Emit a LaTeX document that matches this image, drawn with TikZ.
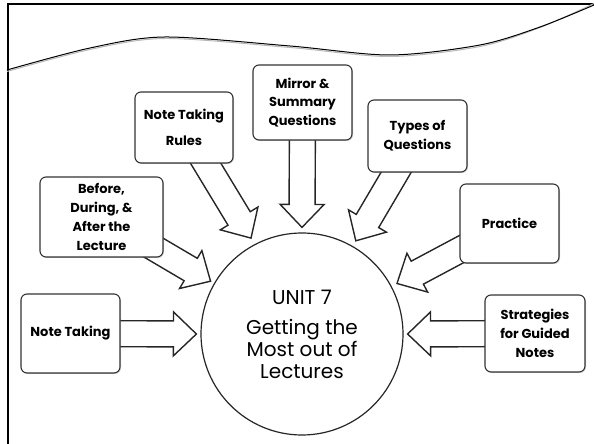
\documentclass[tikz,border=0pt]{standalone}
\usepackage{fontspec}
\setmainfont{Poppins}
\usetikzlibrary{calc,shadows,backgrounds}

% block arrow from the centre of a box to a tip coordinate
\newcommand\blockarrow[2]{%
  \coordinate (h) at ($(#2)!23pt!(#1)$);
  \draw[arrowline] ($(#1)!13pt!90:(#2)$) -- ($(h)!13pt!-90:(#1)$) -- ($(h)!22pt!-90:(#1)$)
    -- (#2) -- ($(h)!22pt!90:(#1)$) -- ($(h)!13pt!90:(#1)$) -- ($(#1)!13pt!-90:(#2)$);}

\tikzset{
  topicbox/.style={draw=black!80, line width=1.1pt, rounded corners=6pt, fill=white,
    align=center, inner sep=2pt, font=\fontsize{13}{18.7}\selectfont\bfseries,
    drop shadow={shadow xshift=1pt, shadow yshift=-1pt, opacity=.35}},
  arrowline/.style={draw=black!85, line width=1.4pt, line join=miter},
  hub/.style={circle, draw=black!85, line width=1.2pt, fill=white, minimum size=202pt,
    align=center, font=\fontsize{20}{22}\selectfont},
}

\begin{document}
\begin{tikzpicture}[x=1pt,y=1pt]
\useasboundingbox (0,0) rectangle (594,444);
% frame and wave
\draw[line width=2.2pt] (8,-5) |- (600,440);
\draw[gray!55, line width=1pt, yshift=-1.5pt] plot[smooth] coordinates {(7,374) (90,396) (165,407) (290,398) (390,389) (480,399) (540,418) (594,442)};
\draw[line width=1pt] plot[smooth] coordinates {(7,374) (90,396) (165,407) (290,398) (390,389) (480,399) (540,417) (594,439)};

\node[hub] (unit) at (302,110) {UNIT 7\\[8pt]Getting the\\Most out of\\Lectures};

\node[topicbox, minimum width=99, minimum height=79] (nt) at (70.5,110.5) {Note Taking};
\node[topicbox, minimum width=123, minimum height=80] (before) at (101.5,227) {Before,\\During, \&\\After the\\Lecture};
\node[topicbox, minimum width=98, minimum height=71] (rules) at (184,316.5) {Note Taking\\[8pt]Rules};
\node[topicbox, minimum width=99, minimum height=75] (mirror) at (302.5,341.5) {Mirror \&\\Summary\\Questions};
\node[topicbox, minimum width=99, minimum height=72] (types) at (417.5,308) {Types of\\Questions};
\node[topicbox, minimum width=99, minimum height=79] (practice) at (509.5,220.5) {Practice};
\node[topicbox, minimum width=100, minimum height=77] (strat) at (535,110.5) {Strategies\\for Guided\\Notes};

\coordinate (tnt) at ($(unit.180)+(180:4)$);
\coordinate (tbefore) at ($(unit.150)+(150:4)$);
\coordinate (trules) at ($(unit.118)+(118:7)$);
\coordinate (tmirror) at ($(unit.90)+(90:5)$);
\coordinate (ttypes) at ($(unit.60)+(60:6)$);
\coordinate (tpractice) at ($(unit.28)+(28:6)$);
\coordinate (tstrat) at ($(unit.0)+(0:4)$);

\begin{scope}[on background layer]
\blockarrow{nt}{tnt}
\blockarrow{before}{tbefore}
\blockarrow{rules}{trules}
\blockarrow{mirror}{tmirror}
\blockarrow{types}{ttypes}
\blockarrow{practice}{tpractice}
\blockarrow{strat}{tstrat}
\end{scope}
\end{tikzpicture}
\end{document}
